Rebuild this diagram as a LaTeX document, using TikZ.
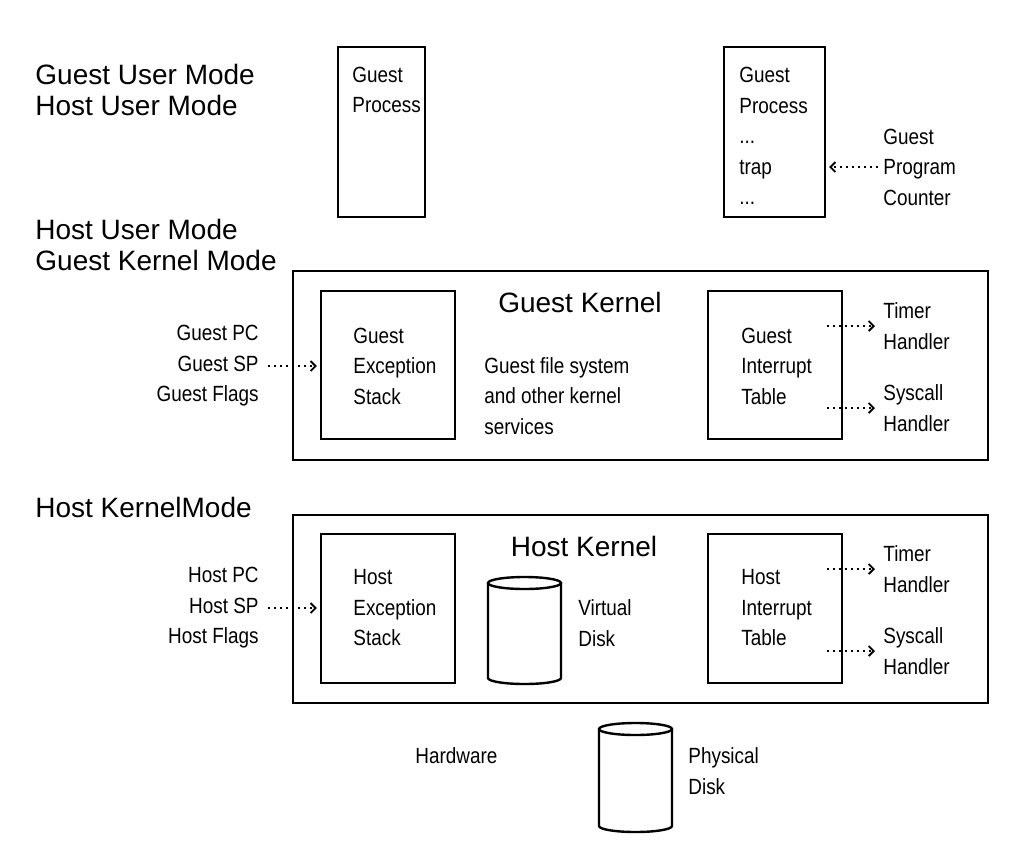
\documentclass[tikz,border=0pt]{standalone}
\usepackage{fontspec}
\setmainfont{Liberation Sans}
\newfontfamily\narrowfont{Liberation Sans}[FakeStretch=0.86]
\usetikzlibrary{arrows.meta, positioning, fit, calc}

\tikzset{
  mode/.style={font=\fontsize{14}{15.5}\selectfont, align=left, anchor=west, inner sep=0pt},
  title/.style={font=\fontsize{14}{15.5}\selectfont, inner sep=0pt},
  lbl/.style={font=\narrowfont\fontsize{11}{15.25}\selectfont, align=left, anchor=west, inner sep=0pt},
  frame/.style={draw, line width=1.2pt, inner sep=0pt},
  ptr/.style={dotted, line width=1pt, -{Straight Barb[length=2.5pt, width=5pt, line width=0.9pt]}}
}

\begin{document}
\begin{tikzpicture}[x=0.5pt, y=0.5pt]
            \useasboundingbox (0,0) rectangle (1035,-842);

            % Mode labels
            \node[mode] (gumode) at (35,-90) {Guest User Mode\\Host User Mode};
            \node[mode] (gkmode) at (35,-245) {Host User Mode\\Guest Kernel Mode};
            \node[mode] (hkmode) at (35,-507) {Host KernelMode};

            % Guest processes
            \node[frame, fit={(338,-47) (425,-217)}] (gproc) {};
            \node[lbl] (gproctxt) at (352,-90) {Guest\\Process};

            \node[frame, fit={(724,-47) (825,-217)}] (gtrap) {};
            \node[lbl] (gtraptxt) at (739,-136) {Guest\\Process\\...\\trap\\...};
            \node[lbl] (gpc) at (883,-167) {Guest\\Program\\Counter};
            \draw[ptr] ([xshift=-2.5pt]gpc.west) -- ([xshift=1.5pt]gtrap.east |- gpc.west);

            % Guest kernel
            \node[frame, fit={(293,-271) (988,-460)}] (gkern) {};
            \node[title] (gkerntxt) at (580,-302) {Guest Kernel};

            \node[frame, fit={(321,-291) (455,-439)}] (gexc) {};
            \node[lbl] (gexctxt) at (353,-366) {Guest\\Exception\\Stack};
            \node[lbl, anchor=east, align=right] (gregs) at (259,-366) {Guest PC\\Guest SP\\Guest Flags};
            \draw[ptr] ([xshift=4.5pt]gregs.east) -- ([xshift=-1.5pt]gexc.west |- gregs.east);

            \node[lbl] (gfs) at (484,-396) {Guest file system\\and other kernel\\services};

            \node[frame, fit={(708,-291) (842,-439)}] (gint) {};
            \node[lbl] (ginttxt) at (741,-366) {Guest\\Interrupt\\Table};
            \node[lbl] (gtimer) at (883,-326) {Timer\\Handler};
            \node[lbl] (gsys) at (883,-408) {Syscall\\Handler};
            \draw[ptr] ([xshift=-8pt]gint.east |- gtimer.west) -- ([xshift=-4pt]gtimer.west);
            \draw[ptr] ([xshift=-8pt]gint.east |- gsys.west) -- ([xshift=-4pt]gsys.west);

            % Host kernel
            \node[frame, fit={(293,-515) (988,-703)}] (hkern) {};
            \node[title] (hkerntxt) at (584,-546) {Host Kernel};

            \node[frame, fit={(321,-534) (455,-683)}] (hexc) {};
            \node[lbl] (hexctxt) at (353,-608) {Host\\Exception\\Stack};
            \node[lbl, anchor=east, align=right] (hregs) at (259,-608) {Host PC\\Host SP\\Host Flags};
            \draw[ptr] ([xshift=4.5pt]hregs.east) -- ([xshift=-1.5pt]hexc.west |- hregs.east);

            % Virtual disk
            \draw[line width=1.2pt] (488,-583) -- (488,-678) arc[start angle=180, end angle=360, x radius=36.5, y radius=6] -- (561,-583);
            \draw[line width=1.2pt] (524.5,-583) ellipse[x radius=36.5, y radius=6];
            \node[lbl] (vdisk) at (578,-623) {Virtual\\Disk};

            \node[frame, fit={(708,-534) (842,-683)}] (hint) {};
            \node[lbl] (hinttxt) at (741,-608) {Host\\Interrupt\\Table};
            \node[lbl] (htimer) at (883,-569) {Timer\\Handler};
            \node[lbl] (hsys) at (883,-651) {Syscall\\Handler};
            \draw[ptr] ([xshift=-8pt]hint.east |- htimer.west) -- ([xshift=-4pt]htimer.west);
            \draw[ptr] ([xshift=-8pt]hint.east |- hsys.west) -- ([xshift=-4pt]hsys.west);

            % Hardware
            \node[lbl] (hw) at (415,-756) {Hardware};
            \draw[line width=1.2pt] (599,-729) -- (599,-826) arc[start angle=180, end angle=360, x radius=36.5, y radius=6] -- (672,-729);
            \draw[line width=1.2pt] (635.5,-729) ellipse[x radius=36.5, y radius=6];
            \node[lbl] (pdisk) at (688,-771) {Physical\\Disk};
        \end{tikzpicture}
\end{document}
